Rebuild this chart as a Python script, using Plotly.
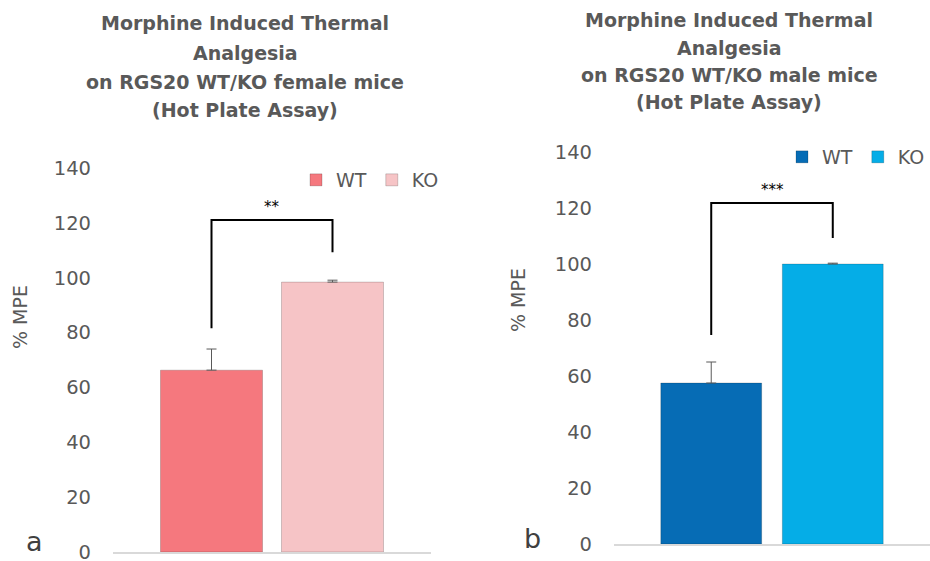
import plotly.graph_objects as go

# ---- data ----
groups = ["WT", "KO"]
female_mean = [66.3, 98.4]
female_err = [7.7, 0.7]
male_mean = [57.5, 100.0]
male_err = [7.5, 0.3]
female_colors = ["#F5787E", "#F6C4C6"]
male_colors = ["#066CB5", "#05ADE7"]
female_title = ["Morphine Induced Thermal", "Analgesia", "on RGS20 WT/KO female mice", "(Hot Plate Assay)"]
male_title = ["Morphine Induced Thermal", "Analgesia", "on RGS20 WT/KO male mice", "(Hot Plate Assay)"]
female_sig = "**"
male_sig = "***"
# bracket: (left foot, top, right foot) in % MPE
female_bracket = [81.6, 121.0, 109.3]
male_bracket = [74.6, 121.8, 109.3]
y_ticks = [0, 20, 40, 60, 80, 100, 120, 140]

W, H = 930, 561
def px(x):
    return x / W
def py(y):
    return 1 - y / H

GRAY = "#595959"
FONT = "DejaVu Sans"

fig = go.Figure()

panels = [
    dict(means=female_mean, errs=female_err, colors=female_colors, xa="x", ya="y",
         legend="legend", width=0.843),
    dict(means=male_mean, errs=male_err, colors=male_colors, xa="x2", ya="y2",
         legend="legend2", width=0.83),
]
for p in panels:
    for i, g in enumerate(groups):
        fig.add_trace(go.Bar(
            x=[g], y=[p["means"][i]], name=g, width=p["width"],
            marker=dict(color=p["colors"][i], line=dict(color="rgba(0,0,0,0.18)", width=1)),
            error_y=dict(type="data", symmetric=False, array=[p["errs"][i]], arrayminus=[0],
                         color=GRAY, thickness=1, width=5),
            xaxis=p["xa"], yaxis=p["ya"], legend=p["legend"], showlegend=True,
        ))

axis_common = dict(showgrid=False, zeroline=False, fixedrange=True, automargin=False)
tickfont = dict(size=19.5, color=GRAY, family=FONT)
fig.update_layout(
    width=W, height=H, margin=dict(l=0, r=0, t=0, b=0, autoexpand=False),
    paper_bgcolor="white", plot_bgcolor="white", barmode="overlay",
    font=dict(family=FONT, color=GRAY),
    xaxis=dict(domain=[px(113), px(431)], range=[-0.814, 1.814], type="category",
               categoryorder="array", categoryarray=groups, showticklabels=False,
               showline=True, linecolor="#D9D9D9", linewidth=1.5, anchor="y", **axis_common),
    yaxis=dict(domain=[py(552), py(168)], range=[0, 140], tickvals=y_ticks,
               tickfont=tickfont, ticklabelstandoff=21, ticklabeloverflow="allow",
               showline=False, anchor="x", **axis_common),
    xaxis2=dict(domain=[px(614), 1.0], range=[-0.8, 1.8], type="category",
                categoryorder="array", categoryarray=groups, showticklabels=False,
                showline=True, linecolor="#D9D9D9", linewidth=1.5, anchor="y2", **axis_common),
    yaxis2=dict(domain=[py(544), py(152)], range=[0, 140], tickvals=y_ticks,
                tickfont=tickfont, ticklabelstandoff=21, ticklabeloverflow="allow",
                showline=False, anchor="x2", **axis_common),
    legend=dict(orientation="h", x=px(296), y=py(180), xanchor="left", yanchor="middle",
                font=dict(size=19, color=GRAY, family=FONT), bgcolor="rgba(0,0,0,0)",
                itemwidth=30, tracegroupgap=0, traceorder="normal"),
    legend2=dict(orientation="h", x=1.0, y=py(157), xanchor="right", yanchor="middle",
                 font=dict(size=19, color=GRAY, family=FONT), bgcolor="rgba(0,0,0,0)",
                 itemwidth=30, tracegroupgap=0, traceorder="normal"),
)

# brackets (significance) in data coordinates
for xa, ya, br, sig in [("x", "y", female_bracket, female_sig), ("x2", "y2", male_bracket, male_sig)]:
    fig.add_shape(type="path", xref=xa, yref=ya,
                  path=f"M 0,{br[0]} L 0,{br[1]} L 1,{br[1]} L 1,{br[2]}",
                  line=dict(color="black", width=2))
    fig.add_annotation(x=0.5, y=br[1], xref=xa, yref=ya, text=sig, showarrow=False,
                       yanchor="bottom", yshift=2, font=dict(size=15, color="black", family="DejaVu Sans"))

# titles
for lines, cx, ys in [(female_title, 245, [23, 53, 82, 110]), (male_title, 729, [20, 48, 75, 102])]:
    for t, yy in zip(lines, ys):
        fig.add_annotation(x=px(cx), y=py(yy), xref="paper", yref="paper", text=f"<b>{t}</b>",
                           showarrow=False, xanchor="center", yanchor="middle",
                           font=dict(size=19, color=GRAY, family=FONT))

# y-axis titles
for cx, cy in [(20, 317), (518, 300)]:
    fig.add_annotation(x=px(cx), y=py(cy), xref="paper", yref="paper", text="% MPE",
                       textangle=-90, showarrow=False, xanchor="center", yanchor="middle",
                       font=dict(size=19, color=GRAY, family=FONT))

# panel letters
for letter, cx, cy in [("a", 34, 541), ("b", 532, 538)]:
    fig.add_annotation(x=px(cx), y=py(cy), xref="paper", yref="paper", text=letter,
                       showarrow=False, xanchor="center", yanchor="middle",
                       font=dict(size=27, color="#404040", family=FONT))

fig.write_html("out.html", config={"displayModeBar": False},
               post_script="document.body.style.margin='0px';")
